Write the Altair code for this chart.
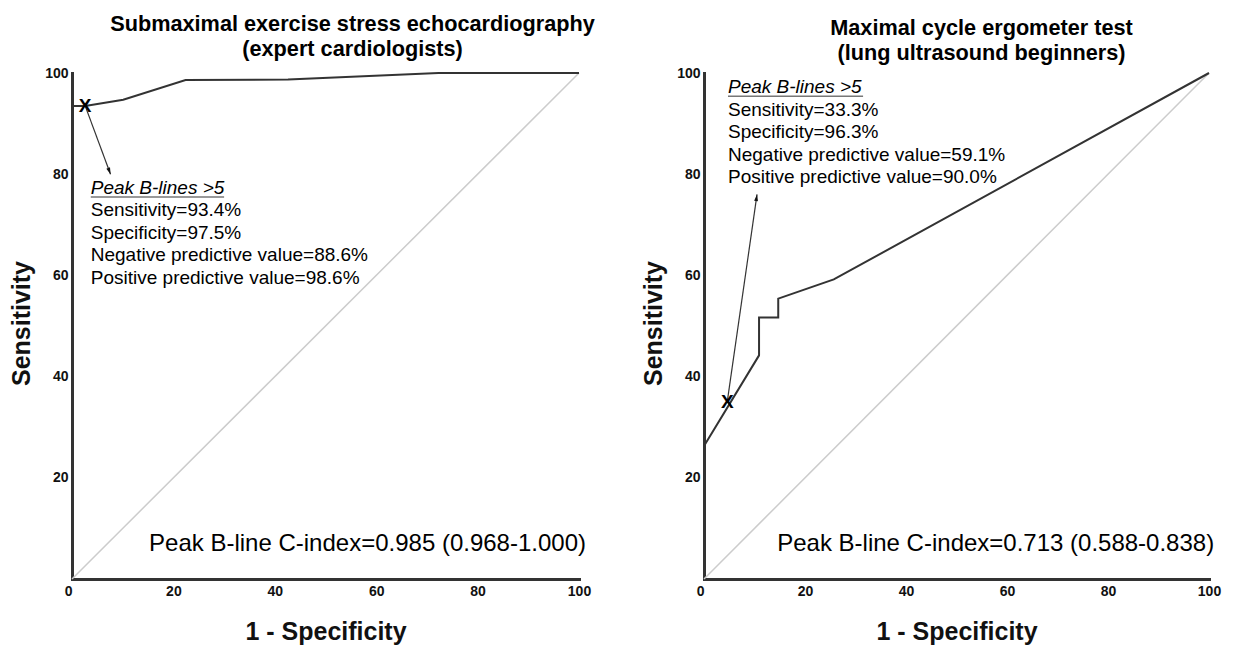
import altair as alt
import pandas as pd

FONT = "Liberation Sans"

# ---- data ----
left_fpr = [0, 2.6, 10.1, 22.4, 42.6, 72.3, 100]
left_tpr = [93.5, 93.5, 94.7, 98.6, 98.7, 100, 100]
right_fpr = [0, 10.9, 10.9, 14.7, 14.7, 25.7, 100]
right_tpr = [26.3, 44.2, 51.7, 51.7, 55.4, 59.2, 100]
diag_vals = [0, 100]

left_title = ["Submaximal exercise stress echocardiography", "(expert cardiologists)"]
right_title = ["Maximal cycle ergometer test", "(lung ultrasound beginners)"]

cut_label = "Peak B-lines >5"
left_stats = ["Sensitivity=93.4%", "Specificity=97.5%",
              "Negative predictive value=88.6%", "Positive predictive value=98.6%"]
right_stats = ["Sensitivity=33.3%", "Specificity=96.3%",
               "Negative predictive value=59.1%", "Positive predictive value=90.0%"]
left_cindex = "Peak B-line C-index=0.985 (0.968-1.000)"
right_cindex = "Peak B-line C-index=0.713 (0.588-0.838)"

# cut-off point (marker X) and arrow end, in data units
left_cut = (2.6, 93.5)
right_cut = (4.6, 35.0)
left_arrow_end = (7.6, 80.0)
right_arrow_end = (10.5, 76.0)

x_ticks = [0, 20, 40, 60, 80, 100]
y_ticks = [20, 40, 60, 80, 100]

ARROW = "M0,0 L-0.5,1.7 L0.5,1.7 Z"


def panel(fpr, tpr, title, title_dx, title_offset, cut, arrow_end, arrow_angle,
          stats, stats_x, label_y, underline_x2, cindex, cindex_x, w, h):
    xs = alt.Scale(domain=[0, 100], nice=False)
    ys = alt.Scale(domain=[0, 100], nice=False)
    xaxis = alt.Axis(values=x_ticks, title="1 - Specificity", grid=False, ticks=False,
                     domainColor="#333333", domainWidth=3, domainCap="square",
                     labelFont=FONT, labelFontWeight="bold", labelFontSize=14,
                     labelColor="#111111", labelPadding=5,
                     labelAlign=alt.expr("datum.value == 0 ? 'right' : 'center'"),
                     titleFont=FONT, titleFontSize=25, titleFontWeight="bold",
                     titleColor="#111111", titleY=52, titleBaseline="middle")
    yaxis = alt.Axis(values=y_ticks, title="Sensitivity", grid=False, ticks=False,
                     domainColor="#333333", domainWidth=3, domainCap="square",
                     labelFont=FONT, labelFontWeight="bold", labelFontSize=14,
                     labelColor="#111111", labelPadding=4,
                     titleFont=FONT, titleFontSize=25, titleFontWeight="bold",
                     titleColor="#111111", titleX=-51, titleY=h / 2 - 3,
                     titleBaseline="middle")

    diag = alt.Chart(pd.DataFrame({"x": diag_vals, "y": diag_vals})).mark_line(
        color="#cccccc", strokeWidth=1.5).encode(
        x=alt.X("x:Q", scale=xs, axis=xaxis),
        y=alt.Y("y:Q", scale=ys, axis=yaxis))

    roc_df = pd.DataFrame({"x": fpr, "y": tpr, "i": list(range(len(fpr)))})
    roc = alt.Chart(roc_df).mark_line(color="#333333", strokeWidth=2).encode(
        x="x:Q", y="y:Q", order="i:Q")

    arr_df = pd.DataFrame({"x": [cut[0]], "y": [cut[1]],
                           "x2": [arrow_end[0]], "y2": [arrow_end[1]]})
    arrow = alt.Chart(arr_df).mark_rule(color="#333333", strokeWidth=1.2).encode(
        x="x:Q", y="y:Q", x2="x2:Q", y2="y2:Q")
    head = alt.Chart(arr_df).mark_point(shape=ARROW, filled=True, color="#111111",
                                        size=60, opacity=1, angle=arrow_angle).encode(
        x="x2:Q", y="y2:Q")

    mark_x = alt.Chart(pd.DataFrame({"x": [cut[0]], "y": [cut[1]], "t": ["X"]})).mark_text(
        font=FONT, fontSize=19, fontWeight="bold", color="#000000",
        baseline="middle", align="center").encode(x="x:Q", y="y:Q", text="t:N")

    line_gap = 4.45
    st_df = pd.DataFrame({"x": [stats_x] * len(stats),
                          "y": [label_y - line_gap * (k + 1) for k in range(len(stats))],
                          "t": stats})
    stats_txt = alt.Chart(st_df).mark_text(
        font=FONT, fontSize=19, color="#000000", align="left", baseline="middle").encode(
        x="x:Q", y="y:Q", text="t:N")

    lab = alt.Chart(pd.DataFrame({"x": [stats_x], "y": [label_y], "t": [cut_label]})).mark_text(
        font=FONT, fontSize=19, fontStyle="italic", color="#000000",
        align="left", baseline="middle").encode(x="x:Q", y="y:Q", text="t:N")
    ul = alt.Chart(pd.DataFrame({"x": [stats_x], "x2": [underline_x2],
                                 "y": [label_y - 1.8]})).mark_rule(
        color="#777777", strokeWidth=1.5).encode(x="x:Q", x2="x2:Q", y="y:Q")

    ci = alt.Chart(pd.DataFrame({"x": [cindex_x], "y": [7.0], "t": [cindex]})).mark_text(
        font=FONT, fontSize=24, color="#000000", align="left", baseline="middle").encode(
        x="x:Q", y="y:Q", text="t:N")

    return alt.layer(diag, roc, arrow, head, mark_x, stats_txt, lab, ul, ci).properties(
        width=w, height=h,
        title=alt.TitleParams(text=title, anchor="middle", frame="group", dx=title_dx,
                              fontSize=21.7, font=FONT, fontWeight="bold", color="#000000",
                              lineHeight=25, offset=title_offset))


left = panel(left_fpr, left_tpr, left_title, 27, 5, left_cut, left_arrow_end, 159.4,
             left_stats, 3.7, 77.3, 30.0, left_cindex, 15.2, 507, 506)
right = panel(right_fpr, right_tpr, right_title, 25, 1, right_cut, right_arrow_end, 8.4,
              right_stats, 4.75, 97.2, 31.5, right_cindex, 14.5, 505, 506)

chart = alt.hconcat(left, right, spacing=125, bounds="flush").properties(
    padding={"left": 0, "top": 5, "right": 0, "bottom": 0}
).configure_view(stroke="transparent")

chart.save("out.html", embed_options={"renderer": "svg", "actions": False})
